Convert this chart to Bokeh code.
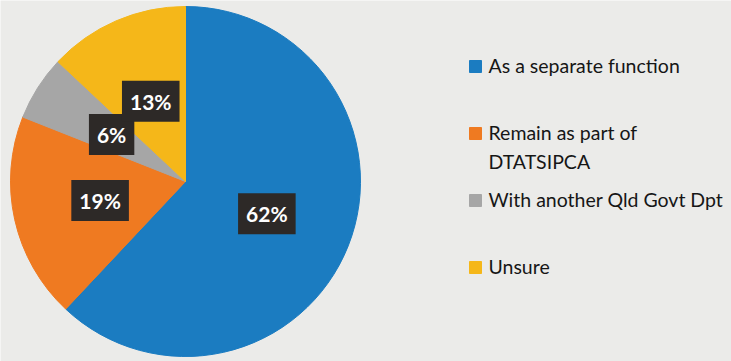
import math
from bokeh.plotting import figure
from bokeh.models import ColumnDataSource, Range1d
from bokeh.core.properties import value
from bokeh.embed import file_html
from bokeh.resources import INLINE

# ---- data ----
categories = ["As a separate function", "Remain as part of\nDTATSIPCA",
              "With another Qld Govt Dpt", "Unsure"]
shares = [62, 19, 6, 13]
colors = ["#1b7cc1", "#ef7a21", "#a6a6a6", "#f5b719"]
labels = [f"{v}%" for v in shares]

W, H = 731, 361
BG = "#ebebe9"

p = figure(width=W, height=H, output_backend="svg", toolbar_location=None,
           x_range=Range1d(0, W), y_range=Range1d(0, H), min_border=0)
p.axis.visible = False
p.grid.visible = False
p.outline_line_color = None
p.background_fill_color = BG
p.border_fill_color = BG

# pie geometry (pixel units)
cx, cy, r = 185, H - 181, 175
total = sum(shares)
starts, ends, lx, ly = [], [], [], []
acc = 0.0
for v in shares:
    a0 = math.pi / 2 - 2 * math.pi * acc / total
    acc += v
    a1 = math.pi / 2 - 2 * math.pi * acc / total
    starts.append(a0)
    ends.append(a1)
    mid = (a0 + a1) / 2
    lx.append(cx + 0.5 * r * math.cos(mid))
    ly.append(cy + 0.5 * r * math.sin(mid))

src = ColumnDataSource(dict(start=starts, end=ends, color=colors,
                            lx=lx, ly=ly, label=labels))
p.wedge(x=cx, y=cy, radius=r, start_angle="start", end_angle="end",
        direction="clock", fill_color="color", line_color="color", source=src)

# data labels with dark boxes
p.text(x="lx", y="ly", text="label", source=src,
       text_color="white", text_font=value("Lato"), text_font_style="bold",
       text_font_size="21px", text_align="center", text_baseline="middle",
       background_fill_color="#2d2927", padding=8)

# legend (manual)
leg_x, leg_y0, leg_step = 475, H - 66, -67
n = len(categories)
leg_ys = [leg_y0 + i * leg_step for i in range(n)]
lsrc = ColumnDataSource(dict(x=[leg_x] * n, y=leg_ys,
                             tx=[leg_x + 13] * n,
                             ty=[y + 13 for y in leg_ys],
                             color=colors, name=categories))
p.scatter(x="x", y="y", marker="square", size=12, fill_color="color",
          line_color="color", source=lsrc)
p.text(x="tx", y="ty", text="name", source=lsrc, text_color="#161616",
       text_font=value("Lato"), text_font_size="19.5px",
       text_align="left", text_baseline="top", text_line_height=1.3)

open("out.html", "w").write(file_html(p, INLINE))
